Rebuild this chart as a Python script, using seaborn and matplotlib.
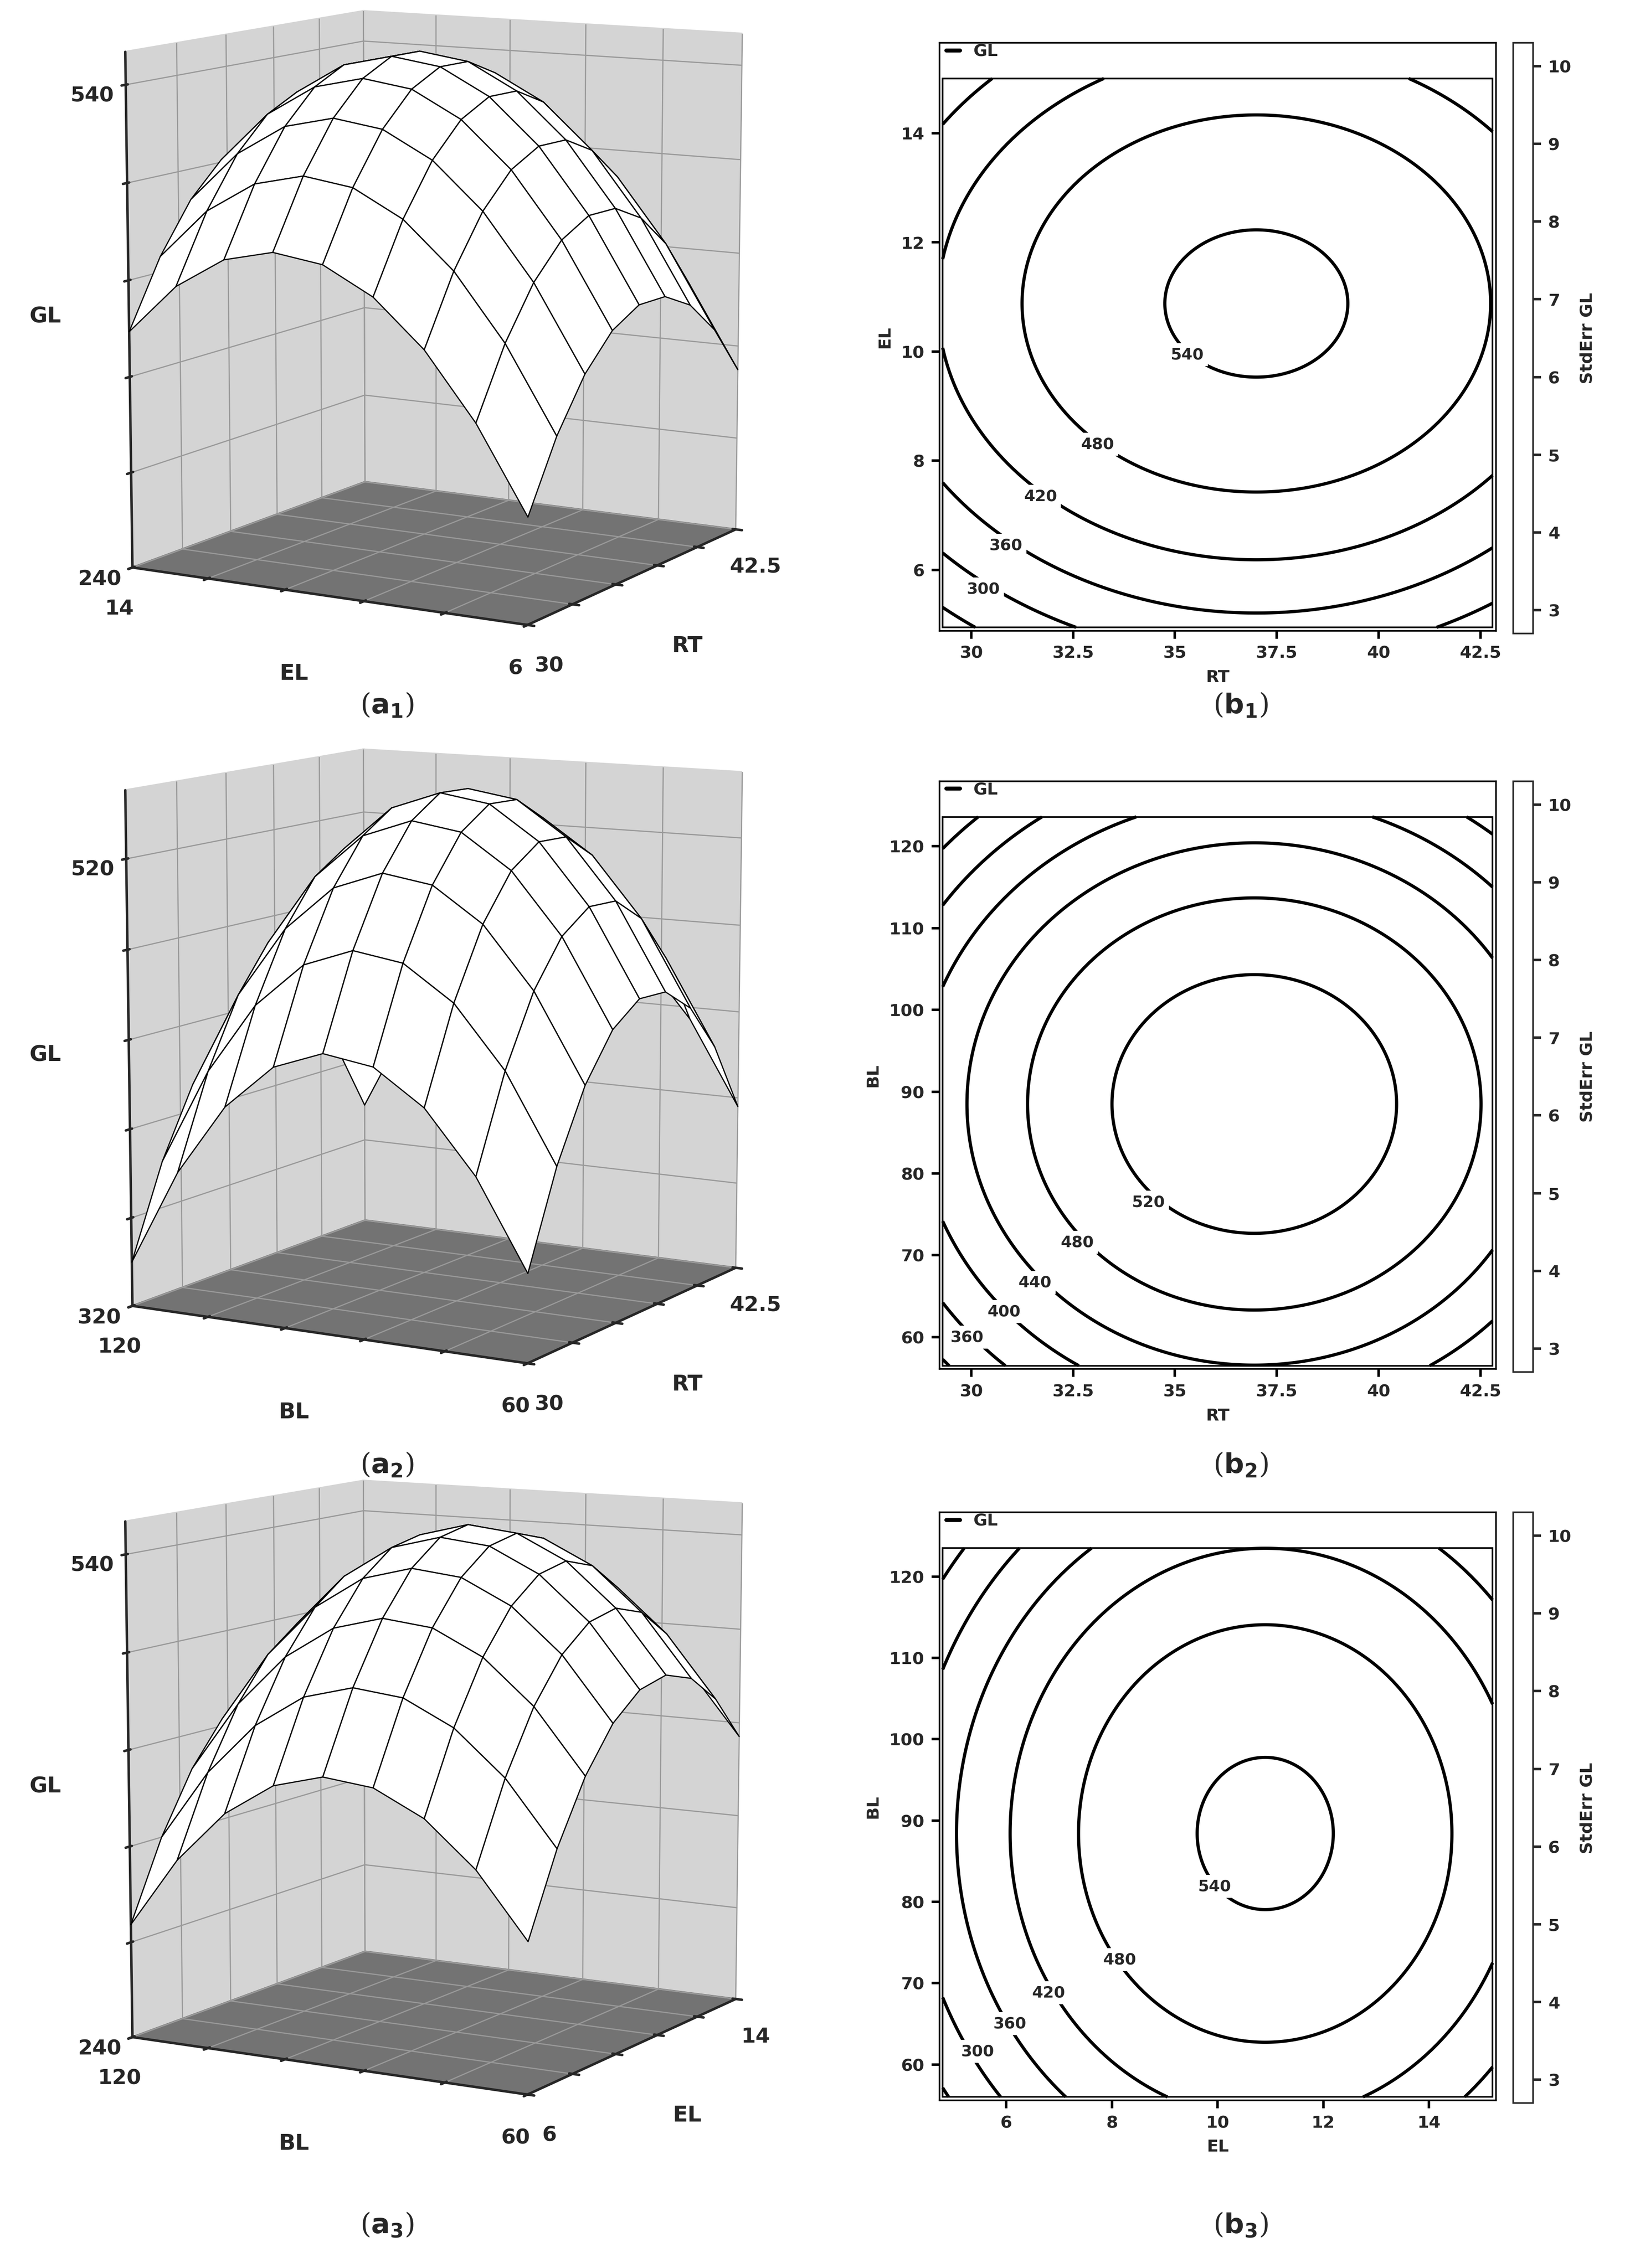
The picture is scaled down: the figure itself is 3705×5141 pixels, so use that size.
import numpy as np
import matplotlib
matplotlib.use("Agg")
import matplotlib.pyplot as plt
import seaborn as sns
from matplotlib.lines import Line2D
from matplotlib.patches import Rectangle
import matplotlib.cm as cm
from matplotlib.colors import Normalize, ListedColormap

sns.set_theme(style="white")
plt.rcParams['font.family'] = ['DejaVu Sans']
plt.rcParams['font.weight'] = 'bold'

# Fitted quadratic response-surface model for GL
x_names = ["RT", "RT", "EL"]
y_names = ["EL", "BL", "BL"]
x_ranges = [(29.3, 42.8), (29.3, 42.8), (4.8, 15.2)]
y_ranges = [(4.95, 15.0), (56.5, 123.6), (56.0, 123.5)]
peaks = [550.8, 546.0, 549.2]
x_centers = [37.0, 36.95, 10.9]
y_centers = [10.88, 88.5, 88.4]
x_curv = [2.14, 2.13, 5.55]
y_curv = [5.94, 0.104, 0.105]
contour_levels = [[240, 300, 360, 420, 480, 540], [320, 360, 400, 440, 480, 520], [240, 300, 360, 420, 480, 540]]
label_values = [[540, 480, 420, 360, 300], [520, 480, 440, 400, 360], [540, 480, 420, 360, 300]]
label_spots = [[(35.3, 9.94), (33.1, 8.30), (31.7, 7.35), (30.85, 6.45), (30.3, 5.65)],
               [(34.35, 76.5), (32.6, 71.6), (31.56, 66.7), (30.8, 63.1), (29.9, 60.0)],
               [(9.94, 81.9), (8.15, 72.9), (6.8, 68.8), (6.07, 65.0), (5.46, 61.6)]]
x_ticks = [[30, 32.5, 35, 37.5, 40, 42.5], [30, 32.5, 35, 37.5, 40, 42.5], [6, 8, 10, 12, 14]]
y_ticks = [[6, 8, 10, 12, 14], [60, 70, 80, 90, 100, 110, 120], [60, 70, 80, 90, 100, 110, 120]]
cbar_ticks = [3, 4, 5, 6, 7, 8, 9, 10]

# 3D panels
s_x_ranges = [(30, 42.5), (30, 42.5), (6, 14)]
s_y_ranges = [(6, 14), (60, 120), (60, 120)]
s_z_ticks = [(240, 540), (320, 520), (240, 540)]
s_zlims = [(240, 560), (320, 550), (240, 560)]

def model(i, X, Y):
    return peaks[i] - x_curv[i]*(X-x_centers[i])**2 - y_curv[i]*(Y-y_centers[i])**2

fig = plt.figure(figsize=(11.4, 15.82), dpi=325)
W, H = 1140, 1582
row_tops = [30, 545, 1055]
caption_y = [492, 1022, 1552]

for i in range(3):
    top = row_tops[i]
    # ---- 3D surface panel
    ax3 = fig.add_axes([5/W, 1-(top+440)/H, 590/W, 510/H], projection="3d")
    ax3.patch.set_alpha(0)
    sx = np.linspace(*s_x_ranges[i], 9)
    sy = np.linspace(*s_y_ranges[i], 9)
    SX, SY = np.meshgrid(sx, sy)
    SZ = model(i, SX, SY)
    ax3.plot_surface(SX, SY, SZ, color="white", edgecolor="black", linewidth=0.6, shade=False,
                     alpha=1.0, antialiased=True, rstride=1, cstride=1)
    ax3.set_zlim(*s_zlims[i])
    ax3.set_xlim(*s_x_ranges[i]); ax3.set_ylim(*s_y_ranges[i])
    ax3.set_box_aspect((1, 1, 1.15), zoom=1.08)
    ax3.view_init(elev=10, azim=-150)
    ax3.xaxis.set_pane_color((0.83, 0.83, 0.83, 1))
    ax3.yaxis.set_pane_color((0.83, 0.83, 0.83, 1))
    ax3.zaxis.set_pane_color((0.45, 0.45, 0.45, 1))
    for a in (ax3.xaxis, ax3.yaxis, ax3.zaxis):
        a._axinfo["grid"]["color"] = (0.6, 0.6, 0.6, 1)
        a._axinfo["grid"]["linewidth"] = 0.6
    xt = np.linspace(*s_x_ranges[i], 6)
    ax3.set_xticks(xt)
    ax3.set_xticklabels([f"{v:g}" if j in (0, 5) else "" for j, v in enumerate(xt)])
    yt = np.linspace(*s_y_ranges[i], 6)
    ax3.set_yticks(yt)
    ax3.set_yticklabels([f"{v:g}" if j in (0, 5) else "" for j, v in enumerate(yt)])
    zt = np.linspace(*s_z_ticks[i], 6)
    ax3.set_zticks(zt)
    ax3.set_zticklabels([f"{v:g}" if j in (0, 5) else "" for j, v in enumerate(zt)])
    ax3.tick_params(labelsize=10.5, pad=2)
    ax3.set_xlabel(x_names[i], fontsize=11, fontweight="bold", labelpad=3)
    ax3.set_ylabel(y_names[i], fontsize=11, fontweight="bold", labelpad=3)
    ax3.set_zlabel("GL", fontsize=11, fontweight="bold", labelpad=4)
    fig.text(270/W, 1-caption_y[i]/H, rf"($\mathbf{{a}}_{i+1}$)", ha="center", va="center",
             fontsize=14, fontweight="normal", family="DejaVu Serif")

    # ---- contour panel
    ax = fig.add_axes([655/W, 1-(top+410)/H, 388/W, 410/H])
    xr, yr = x_ranges[i], y_ranges[i]
    xs = np.linspace(*xr, 300)
    ys = np.linspace(*yr, 300)
    X, Y = np.meshgrid(xs, ys)
    Z = model(i, X, Y)
    ax.contour(X, Y, Z, levels=contour_levels[i], colors="black", linewidths=1.6)
    for v, (lx, ly) in zip(label_values[i], label_spots[i]):
        ax.text(lx, ly, f"{v}", ha="center", va="center", fontsize=8, fontweight="bold",
                bbox=dict(boxstyle="square,pad=0.25", fc="white", ec="none"), zorder=5)
    span = yr[1]-yr[0]
    ax.set_xlim(xr[0]-0.006*(xr[1]-xr[0]), xr[1]+0.006*(xr[1]-xr[0]))
    ax.set_ylim(yr[0]-0.006*span, yr[1]+0.065*span)
    ax.add_patch(Rectangle((xr[0], yr[0]), xr[1]-xr[0], yr[1]-yr[0], fill=False, ec="black", lw=0.8, zorder=6))
    for s in ax.spines.values():
        s.set_color("black"); s.set_linewidth(0.8)
    ax.set_xticks(x_ticks[i]); ax.set_yticks(y_ticks[i])
    ax.set_xticklabels([f"{t:g}" for t in x_ticks[i]])
    ax.tick_params(direction="out", length=4, labelsize=8.5, left=True, bottom=True, color="black")
    ax.set_xlabel(x_names[i], fontsize=8.5, fontweight="bold")
    ax.set_ylabel(y_names[i], fontsize=8.5, fontweight="bold")
    ax.legend(handles=[Line2D([], [], color="black", lw=2)], labels=["GL"], loc="upper left",
              frameon=False, prop={"weight": "bold", "size": 8.5},
              handlelength=0.8, borderaxespad=0.0, bbox_to_anchor=(0.0, 1.01))
    cax = fig.add_axes([1055/W, 1-(top+412)/H, 14/W, 412/H])
    sm = cm.ScalarMappable(norm=Normalize(2.7, 10.3), cmap=ListedColormap(["white"]))
    cb = fig.colorbar(sm, cax=cax, ticks=cbar_ticks)
    cb.outline.set_linewidth(0.8)
    cax.tick_params(labelsize=8.5, length=4, direction="out")
    cb.set_label("StdErr GL", fontsize=8.5, fontweight="bold")
    fig.text(865/W, 1-caption_y[i]/H, rf"($\mathbf{{b}}_{i+1}$)", ha="center", va="center",
             fontsize=14, fontweight="normal", family="DejaVu Serif")

fig.savefig("out.png", dpi=325, facecolor="white")
